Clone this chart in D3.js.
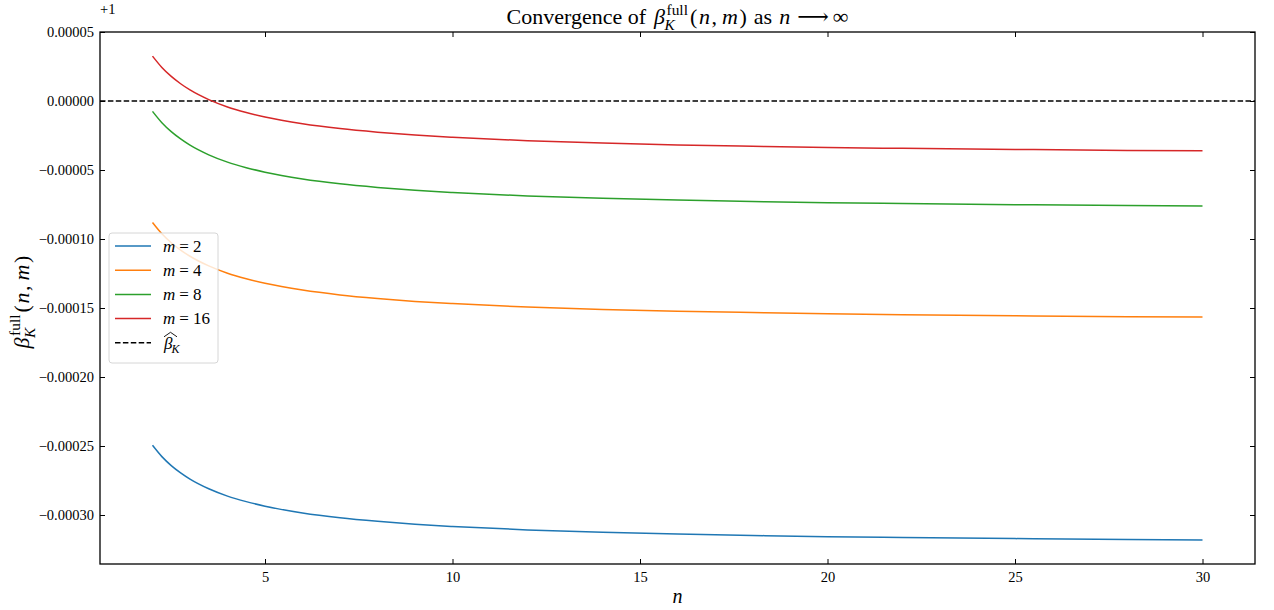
<!DOCTYPE html>
<html>
<head>
<meta charset="utf-8">
<script src="https://cdn.jsdelivr.net/npm/d3@7"></script>
<style>
  body { margin: 0; background: #fff; }
  text { font-family: "Liberation Serif", "DejaVu Serif", serif; fill: #000; white-space: pre; }
</style>
</head>
<body>
<div id="chart"></div>
<script>
// values are beta - 1 (the axis shows an offset of +1)
const nValues = [2, 2.25, 2.5, 2.75, 3, 3.5, 4, 4.5, 5, 6, 7, 8, 9, 10, 12, 14, 16, 18, 20, 22, 25, 28, 30];
const m2Values = [-0.0002495, -0.0002577, -0.0002642, -0.0002695, -0.000274, -0.000281, -0.0002863, -0.0002903, -0.0002936, -0.0002985, -0.000302, -0.0003046, -0.0003067, -0.0003083, -0.0003108, -0.0003125, -0.0003138, -0.0003148, -0.0003157, -0.0003163, -0.0003171, -0.0003178, -0.0003181];
const m4Values = [-0.000088, -0.0000962, -0.0001027, -0.000108, -0.0001125, -0.0001195, -0.0001248, -0.0001288, -0.0001321, -0.000137, -0.0001405, -0.0001431, -0.0001452, -0.0001468, -0.0001493, -0.000151, -0.0001523, -0.0001533, -0.0001542, -0.0001548, -0.0001556, -0.0001563, -0.0001566];
const m8Values = [-0.0000075, -0.0000157, -0.0000222, -0.0000275, -0.000032, -0.000039, -0.0000443, -0.0000483, -0.0000516, -0.0000565, -0.00006, -0.0000626, -0.0000647, -0.0000663, -0.0000688, -0.0000705, -0.0000718, -0.0000728, -0.0000737, -0.0000743, -0.0000751, -0.0000758, -0.0000761];
const m16Values = [0.0000325, 0.0000243, 0.0000178, 0.0000125, 0.000008, 0.000001, -0.0000043, -0.0000083, -0.0000116, -0.0000165, -0.00002, -0.0000226, -0.0000247, -0.0000263, -0.0000288, -0.0000305, -0.0000318, -0.0000328, -0.0000337, -0.0000343, -0.0000351, -0.0000358, -0.0000361];
const seriesNames = ["2", "4", "8", "16"];
const seriesColors = ["#1f77b4", "#ff7f0e", "#2ca02c", "#d62728"];
const betaHat = 0;
const xTicks = [5, 10, 15, 20, 25, 30];
const yTicks = [-0.0003, -0.00025, -0.0002, -0.00015, -0.0001, -0.00005, 0, 0.00005];

const W = 1274, H = 610;
const plotL = 100, plotR = 1255, plotT = 32, plotB = 564;

const svg = d3.select("#chart").append("svg")
    .attr("width", W).attr("height", H);

const x = d3.scaleLinear().domain([0.6, 31.4]).range([plotL, plotR]);
const y = d3.scaleLinear().domain([-0.0003355, 0.00005]).range([plotB, plotT]);

// axes, ticks pointing inward on all four sides
const fmt = d3.format(".5f");
function styleAxis(g) {
    g.select(".domain").remove();
    g.selectAll(".tick line").attr("stroke", "#000").attr("stroke-width", 1);
    g.selectAll(".tick text").attr("fill", "#000").style("font-size", "14.5px")
        .style("font-family", "'Liberation Serif', serif");
}
svg.append("g").attr("transform", "translate(0," + plotB + ")")
    .call(d3.axisBottom(x).tickValues(xTicks).tickSize(-5).tickPadding(8))
    .call(styleAxis);
svg.append("g").attr("transform", "translate(0," + plotT + ")")
    .call(d3.axisTop(x).tickValues(xTicks).tickSize(-5).tickFormat(""))
    .call(styleAxis);
svg.append("g").attr("transform", "translate(" + plotL + ",0)")
    .call(d3.axisLeft(y).tickValues(yTicks).tickSize(-5).tickPadding(6).tickFormat(fmt))
    .call(styleAxis);
svg.append("g").attr("transform", "translate(" + plotR + ",0)")
    .call(d3.axisRight(y).tickValues(yTicks).tickSize(-5).tickFormat(""))
    .call(styleAxis);

// offset text
svg.append("text").attr("x", plotL).attr("y", 14).attr("fill", "#000")
    .style("font-size", "14.5px").text("+1");

// reference line
svg.append("line")
    .attr("x1", plotL).attr("x2", plotR)
    .attr("y1", y(betaHat)).attr("y2", y(betaHat))
    .attr("stroke", "#000").attr("stroke-width", 1.5)
    .attr("stroke-dasharray", "5.5,2.4");

// curves
const allSeries = [m2Values, m4Values, m8Values, m16Values];
const line = d3.line()
    .x((d, i) => x(nValues[i]))
    .y(d => y(d))
    .curve(d3.curveMonotoneX);
allSeries.forEach((vals, k) => {
    svg.append("path")
        .attr("d", line(vals))
        .attr("fill", "none")
        .attr("stroke", seriesColors[k])
        .attr("stroke-width", 1.5);
});

// frame
svg.append("rect")
    .attr("x", plotL).attr("y", plotT)
    .attr("width", plotR - plotL).attr("height", plotB - plotT)
    .attr("fill", "none").attr("stroke", "#000").attr("stroke-width", 1.3);

// little helpers for math-ish text (returns advance width)
function run(g, xPos, yPos, str, size, italic) {
    const t = g.append("text").attr("x", xPos).attr("y", yPos)
        .attr("fill", "#000")
        .style("font-size", size + "px")
        .style("font-style", italic ? "italic" : "normal")
        .text(str);
    return t.node().getComputedTextLength();
}
function betaFull(g, xPos, yPos, size) {
    let w = run(g, xPos, yPos, "β", size, true);
    const s = size * 0.7;
    const w1 = run(g, xPos + w + 1.5, yPos - size * 0.42, "full", s, false);
    const w2 = run(g, xPos + w - 0.5, yPos + size * 0.27, "K", s, true);
    return w + Math.max(w1 + 1.5, w2 - 0.5) + 2;
}
function betaExpr(g, xPos, yPos, size) {
    const k = size / 20;
    let w = betaFull(g, xPos, yPos, size);
    w += run(g, xPos + w, yPos, "(", size, false) + 1.5 * k;
    w += run(g, xPos + w, yPos, "n", size, true) + 1.5 * k;
    w += run(g, xPos + w, yPos, ",", size, false) + 4.5 * k;
    w += run(g, xPos + w, yPos, "m", size, true) + 1.5 * k;
    w += run(g, xPos + w, yPos, ")", size, false);
    return w;
}

// title
const titleG = svg.append("g");
let tw = run(titleG, 0, 0, "Convergence of", 22, false) + 8;
tw += betaExpr(titleG, tw, 0, 22) + 7;
tw += run(titleG, tw, 0, "as", 22, false) + 7;
tw += run(titleG, tw, 0, "n", 22, true) + 7;
tw += run(titleG, tw, 0, "⟶", 22, false) + 4;
tw += run(titleG, tw, 0, "∞", 22, false);
titleG.attr("transform", "translate(" + ((plotL + plotR) / 2 - tw / 2) + ",24)");

// x label
svg.append("text").attr("x", (plotL + plotR) / 2).attr("y", 603)
    .attr("text-anchor", "middle").attr("fill", "#000")
    .style("font-size", "20px").style("font-style", "italic").text("n");

// y label
const yl = svg.append("g")
    .attr("transform", "translate(29,302) rotate(-90)");
const ylInner = yl.append("g");
const yw = betaExpr(ylInner, 0, 0, 22);
ylInner.attr("transform", "translate(" + (-yw / 2) + ",0)");

// legend
const lg = svg.append("g").attr("transform", "translate(109,233)");
lg.append("rect").attr("width", 109).attr("height", 130)
    .attr("rx", 3).attr("fill", "#fff").attr("fill-opacity", 0.8)
    .attr("stroke", "#d6d6d6").attr("stroke-width", 1);
seriesNames.forEach((name, k) => {
    const ry = 13 + k * 24.2;
    lg.append("line").attr("x1", 6).attr("x2", 42).attr("y1", ry).attr("y2", ry)
        .attr("stroke", seriesColors[k]).attr("stroke-width", 1.5);
    let w = run(lg, 54, ry + 5.5, "m", 17, true) + 4;
    w += run(lg, 54 + w, ry + 5.5, "=", 17, false) + 4;
    run(lg, 54 + w, ry + 5.5, name, 17, false);
});
const hy = 13 + 4 * 24.2;
lg.append("line").attr("x1", 6).attr("x2", 42).attr("y1", hy).attr("y2", hy)
    .attr("stroke", "#000").attr("stroke-width", 1.5)
    .attr("stroke-dasharray", "5.5,2.4");
const bw = run(lg, 55, hy + 6, "β", 17, true);
run(lg, 55 + bw - 1, hy + 10, "K", 12, true);
lg.append("path")
    .attr("d", "M55," + (hy - 6) + " L61.5," + (hy - 10.5) + " L68," + (hy - 6))
    .attr("fill", "none").attr("stroke", "#000").attr("stroke-width", 0.9);
</script>
</body>
</html>
